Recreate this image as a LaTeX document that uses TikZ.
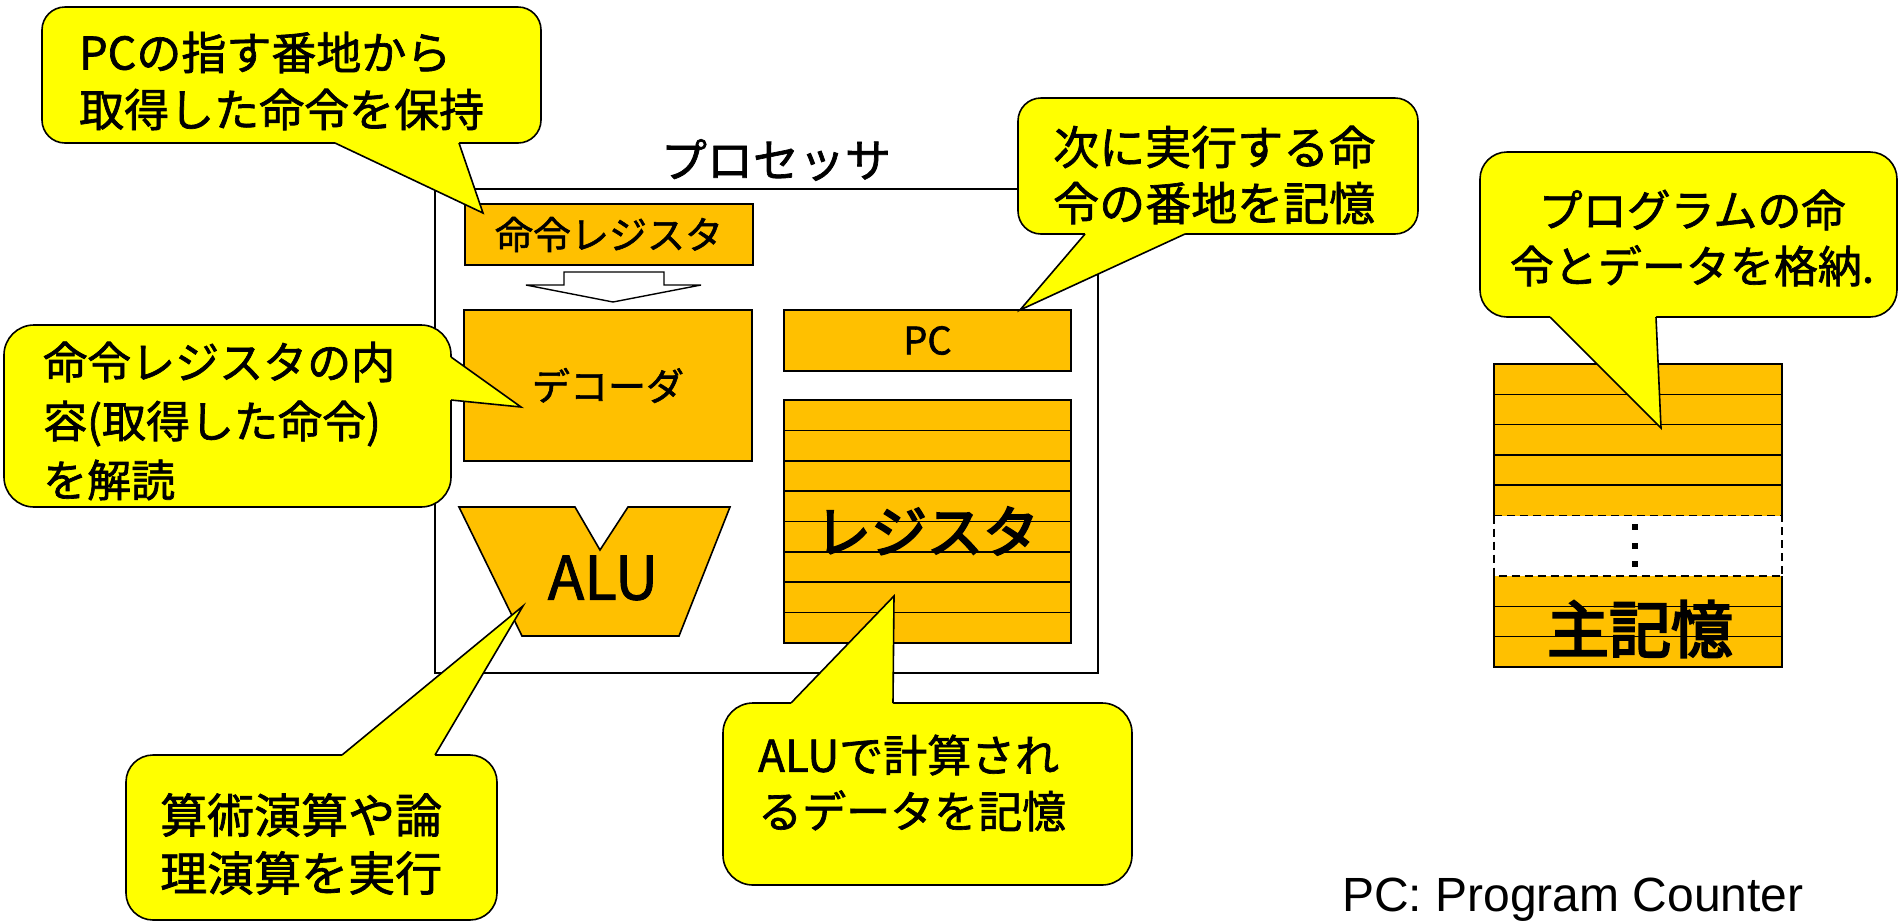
\documentclass[tikz,border=0pt]{standalone}
\usepackage{fontspec}
\usetikzlibrary{calc}
\newfontfamily\jp[FakeBold=1.5]{Noto Sans CJK JP}
\newfontfamily\jpbold[FakeBold=3.5]{Noto Sans CJK JP}
\newfontfamily\lsans{Liberation Sans}
\definecolor{cyel}{HTML}{FFFF00}
\definecolor{corg}{HTML}{FFC000}
\begin{document}
\begin{tikzpicture}[x=1pt,y=-1pt,
  comp/.style={draw=black, fill=corg, line width=1.6pt, inner sep=0pt, outer sep=0pt, anchor=north west},
  orgfill/.style={fill=corg, inner sep=0pt, outer sep=0pt, anchor=north west},
  ln/.style={draw=black, line width=1.6pt},
  bubble/.style={draw=black, fill=cyel, line width=1.6pt},
  wedgeline/.style={draw=black, line width=1.6pt, line join=miter},
  btext/.style={inner sep=0pt, anchor=west, align=left},
  ctext/.style={inner sep=0pt, align=center},
]
\useasboundingbox (0,0) rectangle (1899,922);
\fill[white] (0,0) rectangle (1899,922);

% processor
\node[draw=black, line width=1.6pt, inner sep=0pt, outer sep=0pt, anchor=north west,
      minimum width=663pt, minimum height=484pt] (proc) at (435,189) {};
\node[ctext, font={\jp\fontsize{46}{55}\selectfont}] (proclabel) at (776,160) {プロセッサ};

% instruction register
\node[comp, minimum width=288pt, minimum height=61pt, font={\jp\fontsize{38}{45}\selectfont}] (ir) at (465,204) {命令レジスタ};

% hollow arrow IR -> decoder
\draw[ln, line width=1.4pt, fill=white, line join=miter] (564,272) -- (664,272) -- (664,285) -- (701,285)
   -- (613,302) -- (526,285) -- (564,285) -- cycle;

% decoder
\node[comp, minimum width=288pt, minimum height=151pt, font={\jp\fontsize{38}{45}\selectfont}] (dec) at (464,310) {デコーダ};

% PC
\node[comp, minimum width=287pt, minimum height=61pt, font={\jp\fontsize{38}{45}\selectfont}] (pc) at (784,310) {PC};

% registers
\node[comp, minimum width=287pt, minimum height=243pt] (reg) at (784,400) {};
\foreach \i in {1,...,7}
  \draw[ln] ($(reg.north west)+(0,30.375*\i)$) -- ($(reg.north east)+(0,30.375*\i)$);
\node[ctext, font={\jpbold\fontsize{56}{60}\selectfont}] (reglabel) at (927,531) {レジスタ};

% ALU
\draw[ln, fill=corg, line join=miter] (459,507) -- (575,507) -- (600,550) -- (628,507) -- (730,507)
   -- (679,636) -- (522,636) -- cycle;
\node[ctext, font={\jp\fontsize{60}{62}\selectfont}] (alulabel) at (603,578) {ALU};

% main memory
\node[orgfill, minimum width=288pt, minimum height=151.5pt] (memtop) at (1494,364) {};
\node[orgfill, minimum width=288pt, minimum height=91pt] (membot) at (1494,576) {};
\draw[ln] (memtop.south west) -- (memtop.north west) -- (memtop.north east) -- (memtop.south east);
\foreach \i in {1,...,4}
  \draw[ln] ($(memtop.north west)+(0,30.3*\i)$) -- ($(memtop.north east)+(0,30.3*\i)$);
\draw[ln, line width=1.3pt, dash pattern=on 8pt off 5pt] (memtop.south west) rectangle (membot.north east);
\draw[ln] (membot.north west) -- (membot.south west) -- (membot.south east) -- (membot.north east);
\foreach \i in {1,2}
  \draw[ln] ($(membot.north west)+(0,30.33*\i)$) -- ($(membot.north east)+(0,30.33*\i)$);
\foreach \yy in {527,546,564}
  \fill[black] (1632,\yy-3) rectangle ++(6,6);
\node[ctext, font={\jpbold\fontsize{62}{64}\selectfont}] (memlabel) at (1640,629) {主記憶};

% callout 1
\draw[bubble, rounded corners=23pt] (42,7) rectangle (541,143);
\fill[cyel] (335,140) -- (335,143) -- (483,213) -- (459,143) -- (459,140) -- cycle;
\draw[wedgeline] (335,143) -- (483,213) -- (459,143);
\node[btext, font={\jp\fontsize{45}{57}\selectfont}] (t1) at (79,81) {PCの指す番地から\\取得した命令を保持};

% callout 2
\draw[bubble, rounded corners=23pt] (1018,98) rectangle (1418,234);
\fill[cyel] (1085,231) -- (1085,234) -- (1020,310) -- (1185,234) -- (1185,231) -- cycle;
\draw[wedgeline] (1085,234) -- (1020,310) -- (1185,234);
\node[btext, font={\jp\fontsize{46}{56}\selectfont}] (t2) at (1053,175) {次に実行する命\\令の番地を記憶};

% callout 3
\draw[bubble, rounded corners=27pt] (1480,152) rectangle (1897,317);
\fill[cyel] (1550,314) -- (1550,317) -- (1661,428) -- (1656,317) -- (1656,314) -- cycle;
\draw[wedgeline] (1550,317) -- (1661,428) -- (1656,317);
\node[ctext, font={\jp\fontsize{44}{56}\selectfont}] (t3) at (1692,238) {プログラムの命\\令とデータを格納.};

% callout 4
\draw[bubble, rounded corners=30pt] (4,325) rectangle (451,507);
\fill[cyel] (448,357) -- (451,357) -- (521,407) -- (451,400) -- (448,400) -- cycle;
\draw[wedgeline] (451,357) -- (521,407) -- (451,400);
\node[btext, font={\jp\fontsize{44}{59}\selectfont}] (t4) at (43,421) {命令レジスタの内\\容(取得した命令)\\を解読};

% callout 5
\draw[bubble, rounded corners=27pt] (126,755) rectangle (497,920);
\fill[cyel] (342,758) -- (342,755) -- (523,606) -- (435,755) -- (435,758) -- cycle;
\draw[wedgeline] (342,755) -- (523,606) -- (435,755);
\node[btext, font={\jp\fontsize{47}{58}\selectfont}] (t5) at (160,844) {算術演算や論\\理演算を実行};

% callout 6
\draw[bubble, rounded corners=30pt] (723,703) rectangle (1132,885);
\fill[cyel] (791,706) -- (791,703) -- (894,596) -- (893,703) -- (893,706) -- cycle;
\draw[wedgeline] (791,703) -- (894,596) -- (893,703);
\node[btext, font={\jp\fontsize{44}{56}\selectfont}] (t6) at (758,783) {ALUで計算され\\るデータを記憶};

% legend
\node[anchor=base west, inner sep=0pt, font={\lsans\fontsize{48}{50}\selectfont}] (legend) at (1342,911) {PC: Program Counter};
\end{tikzpicture}
\end{document}
